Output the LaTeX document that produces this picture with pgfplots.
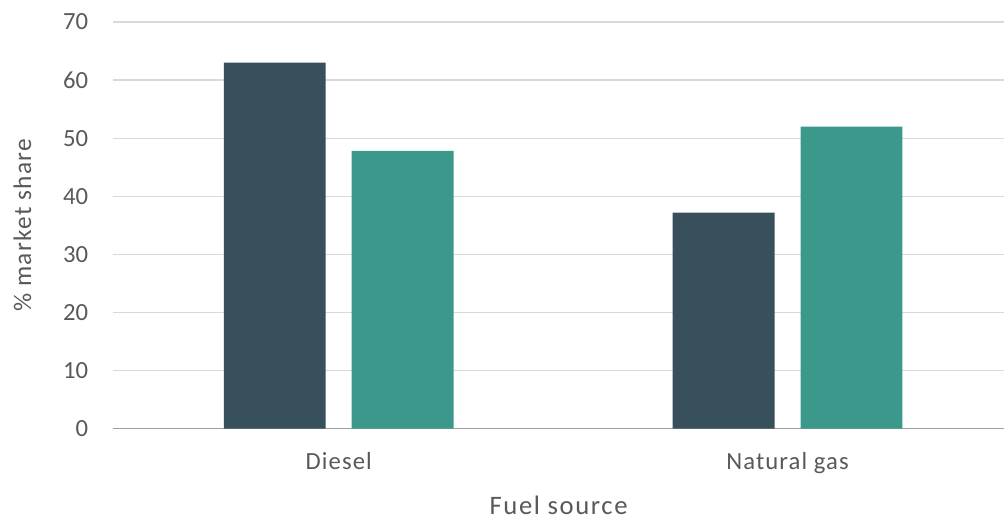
\documentclass[border=0pt]{standalone}
\usepackage{fontspec}
\setmainfont{Carlito}
\newfontfamily\catfont[LetterSpace=4.5]{Carlito}
\newfontfamily\titlefont[LetterSpace=6]{Carlito}
\newfontfamily\ytitlefont[LetterSpace=5]{Carlito}
\usepackage{pgfplots}
\pgfplotsset{compat=1.18}
\definecolor{darkbar}{HTML}{37505C}
\definecolor{greenbar}{HTML}{3A998A}
\definecolor{gridgray}{HTML}{D9D9D9}
\definecolor{axisgray}{HTML}{A0A0A0}
\definecolor{labelgray}{HTML}{595959}
\begin{document}
\begin{tikzpicture}
\begin{axis}[
    name=ax,
    ybar,
    scale only axis,
    width=669pt,
    height=305.25pt,
    bar width=76.5pt,
    ymin=0, ymax=70,
    ytick={0,10,...,70},
    xmin=-0.503, xmax=1.483,
    xtick=data,
    xticklabels={Diesel, Natural gas},
    axis lines*=left,
    y axis line style={draw=none},
    x axis line style={axisgray, line width=1pt, -},
    ymajorgrids,
    grid style={gridgray, line width=1pt},
    major tick length=0pt,
    tick label style={font=\fontsize{18.5}{22}\selectfont, text=labelgray},
    yticklabel style={xshift=-15pt},
    xticklabel style={yshift=-14pt, font=\catfont\fontsize{18.5}{22}\selectfont},
    /pgf/number format/assume math mode=true,
    xlabel={Fuel source},
    ylabel={\% market share},
    xlabel style={font=\titlefont\fontsize{20}{24}\selectfont, text=labelgray, yshift=-10pt},
    ylabel style={font=\ytitlefont\fontsize{19}{23}\selectfont, text=labelgray, yshift=17pt},
    clip=false,
]
\addplot[draw=none, fill=darkbar, bar shift=-48pt] coordinates {(0,63) (1,37.2)};
\addplot[draw=none, fill=greenbar, bar shift=48pt] coordinates {(0,47.8) (1,52)};
\end{axis}
% page frame: same margins round the axis as the reference
\path ([xshift=-84.75pt, yshift=-70.5pt]ax.south west) rectangle ([yshift=16.5pt]ax.north east);
\end{tikzpicture}
\end{document}
